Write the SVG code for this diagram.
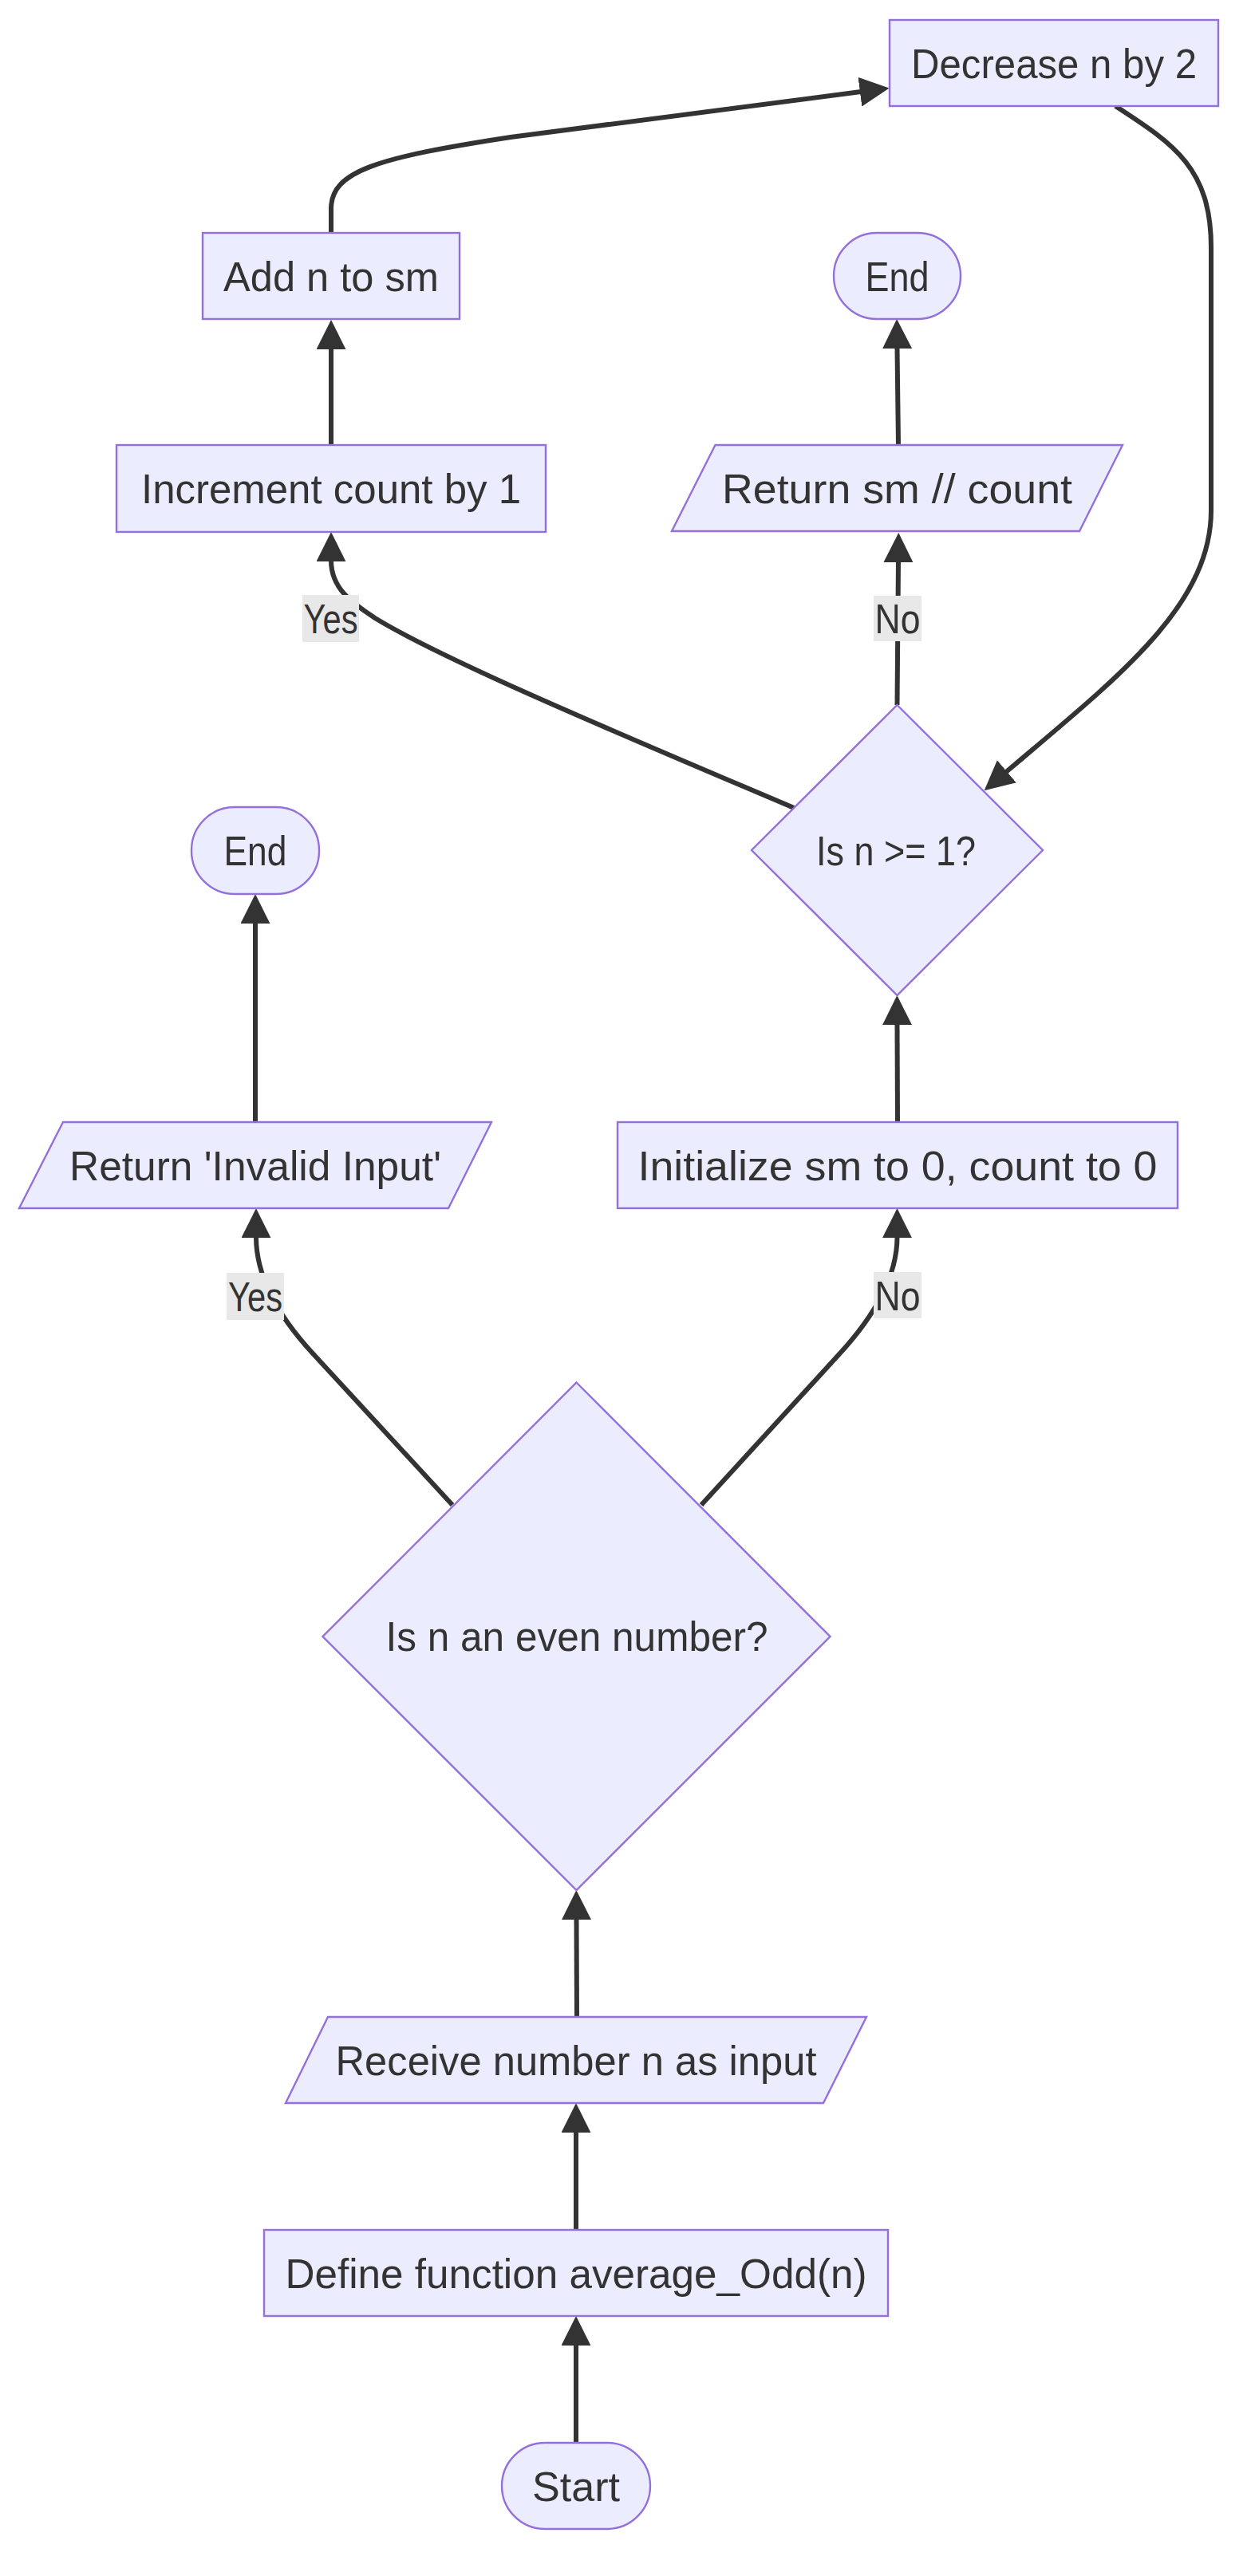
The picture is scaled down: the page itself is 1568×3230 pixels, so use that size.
<svg xmlns="http://www.w3.org/2000/svg" width="1568" height="3230" viewBox="0 0 1568 3230">
<style>
.node rect,.node polygon{fill:#ECECFF;stroke:#9370DB;stroke-width:2.4}
.t{font-family:"Liberation Sans",Arial,sans-serif;font-size:52px;fill:#333333;text-anchor:middle}
.edge{fill:none;stroke:#333333;stroke-width:6}
.lbl rect{fill:#e8e8e8}
</style>
<defs>
<marker id="arr" viewBox="0 0 10 10" refX="0.3" refY="5" markerUnits="userSpaceOnUse" markerWidth="37" markerHeight="37" orient="auto"><path d="M0,0 L10,5 L0,10 z" fill="#333333"/></marker>
</defs>
<rect width="1568" height="3230" fill="#ffffff"/>
<g id="connectors">
<path class="edge" marker-end="url(#arr)" d="M722,3063 L722,2940"/>
<path class="edge" marker-end="url(#arr)" d="M722,2796 L722,2673"/>
<path class="edge" marker-end="url(#arr)" d="M723,2529 L722.5,2406"/>
<path class="edge" marker-end="url(#arr)" d="M567,1887 L392,1697 Q321,1620 321,1551"/>
<path class="edge" marker-end="url(#arr)" d="M879,1887 L1050,1700 Q1124.5,1620 1124.5,1551"/>
<path class="edge" marker-end="url(#arr)" d="M320,1407 L320,1157"/>
<path class="edge" marker-end="url(#arr)" d="M1125,1407 L1124.5,1284"/>
<path class="edge" marker-end="url(#arr)" d="M995,1013 C800,930 560,830 470,775 C445,758 415,740 415,703"/>
<path class="edge" marker-end="url(#arr)" d="M1124.5,884 L1126,704"/>
<path class="edge" marker-end="url(#arr)" d="M1126,558 L1124.5,436"/>
<path class="edge" marker-end="url(#arr)" d="M415,558 L415,437"/>
<path class="edge" marker-end="url(#arr)" d="M415,292 L415,262 C415,215 470,198 640,172 L1079,115"/>
<path class="edge" marker-end="url(#arr)" d="M1398,133 C1470,180 1518,210 1518,310 L1518,640 C1518,760 1400,850 1261,968"/>
<g class="lbl"><rect x="379" y="746" width="71" height="59"/><text class="t" x="414.5" y="794" textLength="68" lengthAdjust="spacingAndGlyphs">Yes</text></g>
<g class="lbl"><rect x="1095" y="747" width="60" height="57"/><text class="t" x="1125" y="794" textLength="57" lengthAdjust="spacingAndGlyphs">No</text></g>
<g class="lbl"><rect x="284" y="1596" width="72" height="59"/><text class="t" x="320" y="1644" textLength="68" lengthAdjust="spacingAndGlyphs">Yes</text></g>
<g class="lbl"><rect x="1095" y="1595" width="60" height="58"/><text class="t" x="1125" y="1643" textLength="57" lengthAdjust="spacingAndGlyphs">No</text></g>
</g>
<g id="start" class="node"><rect x="629" y="3063" width="186" height="108" rx="54" ry="54"/><text class="t" x="722" y="3136" textLength="110" lengthAdjust="spacingAndGlyphs">Start</text></g>
<g id="define" class="node"><rect x="331" y="2796" width="782" height="108"/><text class="t" x="722" y="2869" textLength="729" lengthAdjust="spacingAndGlyphs">Define function average_Odd(n)</text></g>
<g id="receive" class="node"><polygon points="411,2529 1086,2529 1032,2637 358,2637"/><text class="t" x="722" y="2602" textLength="603" lengthAdjust="spacingAndGlyphs">Receive number n as input</text></g>
<g id="even" class="node"><polygon points="722.5,1733.5 1040.5,2052 722.5,2370 404.5,2052"/><text class="t" x="723" y="2070" textLength="479" lengthAdjust="spacingAndGlyphs">Is n an even number?</text></g>
<g id="invalid" class="node"><polygon points="79,1407 616,1407 562,1515 24,1515"/><text class="t" x="320" y="1480" textLength="466" lengthAdjust="spacingAndGlyphs">Return 'Invalid Input'</text></g>
<g id="end1" class="node"><rect x="240" y="1012" width="160" height="109" rx="54" ry="54"/><text class="t" x="320" y="1085" textLength="79" lengthAdjust="spacingAndGlyphs">End</text></g>
<g id="init" class="node"><rect x="774" y="1407" width="702" height="108"/><text class="t" x="1125" y="1480" textLength="651" lengthAdjust="spacingAndGlyphs">Initialize sm to 0, count to 0</text></g>
<g id="check" class="node"><polygon points="1124.5,884 1307,1066 1124.5,1248 942,1066"/><text class="t" x="1123" y="1085" textLength="200" lengthAdjust="spacingAndGlyphs">Is n &gt;= 1?</text></g>
<g id="increment" class="node"><rect x="146" y="558" width="538" height="109"/><text class="t" x="415" y="631" textLength="476" lengthAdjust="spacingAndGlyphs">Increment count by 1</text></g>
<g id="retavg" class="node"><polygon points="896.5,558 1407,558 1353,666 842,666"/><text class="t" x="1124.5" y="631" textLength="439" lengthAdjust="spacingAndGlyphs">Return sm // count</text></g>
<g id="add" class="node"><rect x="254" y="292" width="322" height="108"/><text class="t" x="415" y="365" textLength="270" lengthAdjust="spacingAndGlyphs">Add n to sm</text></g>
<g id="end2" class="node"><rect x="1045" y="292" width="159" height="108" rx="54" ry="54"/><text class="t" x="1124.5" y="365" textLength="80" lengthAdjust="spacingAndGlyphs">End</text></g>
<g id="decrease" class="node"><rect x="1115" y="25" width="412" height="108"/><text class="t" x="1321" y="98" textLength="358" lengthAdjust="spacingAndGlyphs">Decrease n by 2</text></g>
</svg>
